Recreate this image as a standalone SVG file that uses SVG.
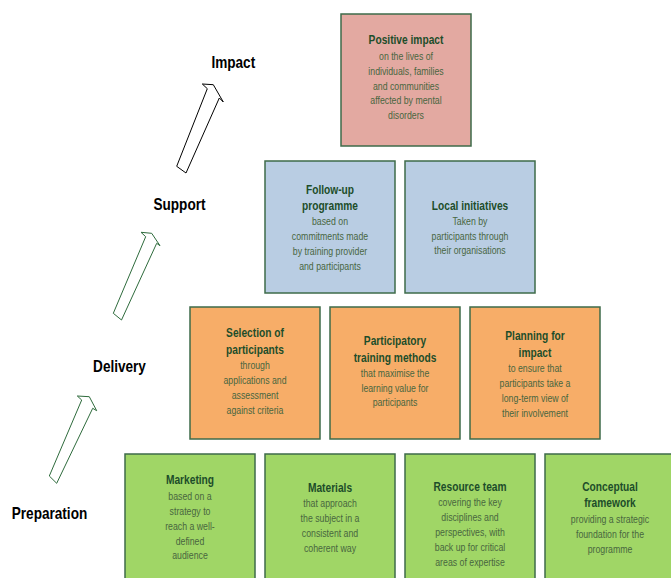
<svg xmlns="http://www.w3.org/2000/svg" width="671" height="578" viewBox="0 0 671 578">
<style>
  .box { stroke: #3e6b4a; stroke-width: 1.5; }
  .pink { fill: #e3a9a1; }
  .blue { fill: #b9cde3; }
  .orange { fill: #f7ad68; }
  .green { fill: #a0d666; }
  .t { font-family: "Liberation Sans", Arial, sans-serif; font-weight: bold; font-size: 12px; fill: #1d4d2a; text-anchor: middle; }
  .b { font-family: "Liberation Sans", Arial, sans-serif; font-size: 10.3px; fill: #48663f; text-anchor: middle; }
  .lbl { font-family: "Liberation Sans", Arial, sans-serif; font-weight: bold; font-size: 16px; fill: #000; text-anchor: middle; }
  .arw { fill: #fff; stroke-width: 1; stroke-linejoin: miter; }
  .blk { stroke: #000; }
  .grn { stroke: #2e6b3c; }
</style>
<rect width="671" height="578" fill="#fff"/>

<g id="labels">
  <text class="lbl" transform="translate(233.3 68) scale(0.85 1)">Impact</text>
  <text class="lbl" transform="translate(179.5 210) scale(0.85 1)">Support</text>
  <text class="lbl" transform="translate(119.5 372) scale(0.85 1)">Delivery</text>
  <text class="lbl" transform="translate(49.5 519) scale(0.85 1)">Preparation</text>
</g>

<g id="connectors">
  <polygon class="arw blk" points="176.7,166.3 207.3,88.7 202.3,84 213.3,84.7 223.3,102 219.3,98 186,173"/>
  <polygon class="arw grn" points="113.3,313.3 145.7,236.7 141,232.3 151.7,233.3 160,245.7 156.7,243.3 121.5,320"/>
  <polygon class="arw grn" points="49.3,476 81.7,400 77.3,396 89.3,396.7 96.7,410.7 92.7,408.3 56.7,483.3"/>
</g>

<g id="positive-impact">
  <rect class="box pink" x="341" y="14" width="130" height="132"/>
  <g transform="translate(406 0) scale(0.85 1)">
    <text class="t" y="44">Positive impact</text>
    <text class="b" y="60.5">on the lives of</text>
    <text class="b" y="75">individuals, families</text>
    <text class="b" y="89.6">and communities</text>
    <text class="b" y="104.2">affected by mental</text>
    <text class="b" y="118.8">disorders</text>
  </g>
</g>

<g id="follow-up">
  <rect class="box blue" x="265" y="161" width="130" height="132"/>
  <g transform="translate(330 0) scale(0.85 1)">
    <text class="t" y="194">Follow-up</text>
    <text class="t" y="210.5">programme</text>
    <text class="b" y="225">based on</text>
    <text class="b" y="240">commitments made</text>
    <text class="b" y="255">by training provider</text>
    <text class="b" y="270">and participants</text>
  </g>
</g>

<g id="local-initiatives">
  <rect class="box blue" x="405" y="161" width="130" height="132"/>
  <g transform="translate(470 0) scale(0.85 1)">
    <text class="t" y="210.5">Local initiatives</text>
    <text class="b" y="225">Taken by</text>
    <text class="b" y="240">participants through</text>
    <text class="b" y="254.5">their organisations</text>
  </g>
</g>

<g id="selection">
  <rect class="box orange" x="190" y="307" width="130" height="132"/>
  <g transform="translate(255 0) scale(0.85 1)">
    <text class="t" y="337.5">Selection of</text>
    <text class="t" y="354">participants</text>
    <text class="b" y="369.5">through</text>
    <text class="b" y="384.5">applications and</text>
    <text class="b" y="399.5">assessment</text>
    <text class="b" y="414">against criteria</text>
  </g>
</g>

<g id="participatory">
  <rect class="box orange" x="330" y="307" width="130" height="132"/>
  <g transform="translate(395 0) scale(0.85 1)">
    <text class="t" y="345.5">Participatory</text>
    <text class="t" y="362">training methods</text>
    <text class="b" y="377">that maximise the</text>
    <text class="b" y="392">learning value for</text>
    <text class="b" y="406.5">participants</text>
  </g>
</g>

<g id="planning">
  <rect class="box orange" x="470" y="307" width="130" height="132"/>
  <g transform="translate(535 0) scale(0.85 1)">
    <text class="t" y="340.5">Planning for</text>
    <text class="t" y="357">impact</text>
    <text class="b" y="372.5">to ensure that</text>
    <text class="b" y="387.5">participants take a</text>
    <text class="b" y="402.5">long-term view of</text>
    <text class="b" y="417.5">their involvement</text>
  </g>
</g>

<g id="marketing">
  <rect class="box green" x="125" y="454" width="130" height="132"/>
  <g transform="translate(190 0) scale(0.85 1)">
    <text class="t" y="484.5">Marketing</text>
    <text class="b" y="500">based on a</text>
    <text class="b" y="515">strategy to</text>
    <text class="b" y="530">reach a well-</text>
    <text class="b" y="545">defined</text>
    <text class="b" y="559.5">audience</text>
  </g>
</g>

<g id="materials">
  <rect class="box green" x="265" y="454" width="130" height="132"/>
  <g transform="translate(330 0) scale(0.85 1)">
    <text class="t" y="492">Materials</text>
    <text class="b" y="507.5">that approach</text>
    <text class="b" y="522.5">the subject in a</text>
    <text class="b" y="537.5">consistent and</text>
    <text class="b" y="552">coherent way</text>
  </g>
</g>

<g id="resource-team">
  <rect class="box green" x="405" y="454" width="130" height="132"/>
  <g transform="translate(470 0) scale(0.85 1)">
    <text class="t" y="491">Resource team</text>
    <text class="b" y="506">covering the key</text>
    <text class="b" y="521">disciplines and</text>
    <text class="b" y="536">perspectives, with</text>
    <text class="b" y="551">back up for critical</text>
    <text class="b" y="566">areas of expertise</text>
  </g>
</g>

<g id="conceptual-framework">
  <rect class="box green" x="545" y="454" width="130" height="132"/>
  <g transform="translate(610 0) scale(0.85 1)">
    <text class="t" y="491">Conceptual</text>
    <text class="t" y="507.5">framework</text>
    <text class="b" y="523.5">providing a strategic</text>
    <text class="b" y="538.5">foundation for the</text>
    <text class="b" y="553">programme</text>
  </g>
</g>
</svg>
